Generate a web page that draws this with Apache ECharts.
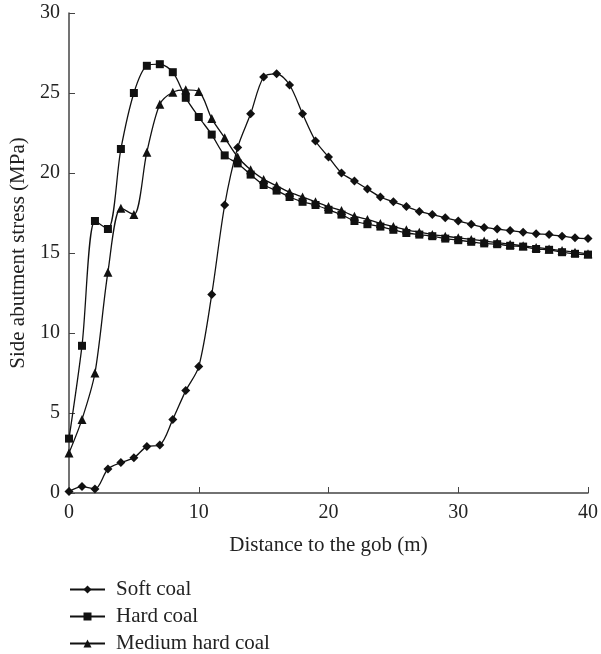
<!DOCTYPE html>
<html style="height: 100%">
<head>
    <meta charset="utf-8">
</head>
<body style="height: 100%; margin: 0; background: #fff">
    <div id="container" style="width: 601px; height: 654px"></div>
    <script type="text/javascript" src="https://cdn.jsdelivr.net/npm/echarts@6/dist/echarts.min.js"></script>
    <script type="text/javascript">
        // distance to the gob (m), one point per metre
        var distance = [];
        for (var i = 0; i <= 40; i++) distance.push(i);

        var softCoal = [0.1, 0.4, 0.25, 1.5, 1.9, 2.2, 2.9, 3.0, 4.6, 6.4, 7.9, 12.4, 18.0, 21.6, 23.7, 26.0, 26.2, 25.5, 23.7, 22.0,
            21.0, 20.0, 19.5, 19.0, 18.5, 18.2, 17.9, 17.6, 17.4, 17.2, 17.0, 16.8, 16.6, 16.5, 16.4, 16.3, 16.2, 16.15, 16.05, 15.95, 15.9];
        var hardCoal = [3.4, 9.2, 17.0, 16.5, 21.5, 25.0, 26.7, 26.8, 26.3, 24.7, 23.5, 22.4, 21.1, 20.6, 19.9, 19.25, 18.9, 18.5, 18.2, 18.0,
            17.7, 17.4, 17.0, 16.8, 16.65, 16.45, 16.25, 16.15, 16.05, 15.9, 15.8, 15.7, 15.6, 15.55, 15.45, 15.4, 15.25, 15.2, 15.05, 14.95, 14.9];
        var mediumCoal = [2.5, 4.6, 7.5, 13.8, 17.8, 17.4, 21.3, 24.3, 25.05, 25.2, 25.1, 23.4, 22.2, 21.0, 20.2, 19.6, 19.2, 18.8, 18.5, 18.2,
            17.9, 17.65, 17.3, 17.1, 16.85, 16.65, 16.45, 16.3, 16.15, 16.05, 15.95, 15.85, 15.75, 15.65, 15.55, 15.45, 15.35, 15.25, 15.15, 15.05, 14.95];

        var seriesNames = ['Soft coal', 'Hard coal', 'Medium hard coal'];

        function pairs(ys) {
            return ys.map(function (y, i) { return [distance[i], y]; });
        }

        var font = 'Liberation Serif';
        var dom = document.getElementById("container");
        var myChart = echarts.init(dom);

        function makeSeries(name, ys, symbol, size) {
            return {
                name: name,
                type: 'line',
                data: pairs(ys),
                smooth: 0.3,
                symbol: symbol,
                symbolSize: size,
                showAllSymbol: true,
                lineStyle: { color: '#111', width: 1.3 },
                itemStyle: { color: '#111' },
                emphasis: { disabled: true }
            };
        }

        // one legend per entry so the stacked list never wraps into columns
        var legends = seriesNames.map(function (name, i) {
            return {
                orient: 'vertical',
                left: 69,
                top: 579 + i * 27,
                padding: 0,
                itemWidth: 35,
                itemHeight: 10,
                data: [name],
                textStyle: { fontFamily: font, fontSize: 21, lineHeight: 20, color: '#222', padding: [0, 0, 0, 6] }
            };
        });

        var option = {
            animation: false,
            textStyle: { fontFamily: font },
            grid: {
                left: 69,
                right: 11,
                top: 13,
                bottom: 161
            },
            legend: legends,
            xAxis: {
                type: 'value',
                min: 0,
                max: 40,
                interval: 10,
                name: 'Distance to the gob (m)',
                nameLocation: 'middle',
                nameGap: 42,
                nameTextStyle: { fontFamily: font, fontSize: 21, color: '#222' },
                axisLine: { lineStyle: { color: '#444', width: 1.5 } },
                axisTick: { inside: true, length: 6, lineStyle: { color: '#444' } },
                axisLabel: { fontFamily: font, fontSize: 20, color: '#222', margin: 10 },
                splitLine: { show: false }
            },
            yAxis: {
                type: 'value',
                min: 0,
                max: 30,
                interval: 5,
                name: 'Side abutment stress (MPa)',
                nameLocation: 'middle',
                nameGap: 40,
                nameTextStyle: { fontFamily: font, fontSize: 21, color: '#222' },
                axisLine: { show: true, lineStyle: { color: '#444', width: 1.5 } },
                axisTick: { show: true, inside: true, length: 6, lineStyle: { color: '#444' } },
                axisLabel: { fontFamily: font, fontSize: 20, color: '#222', margin: 9 },
                splitLine: { show: false }
            },
            series: [
                makeSeries(seriesNames[0], softCoal, 'diamond', 9),
                makeSeries(seriesNames[1], hardCoal, 'rect', 8),
                makeSeries(seriesNames[2], mediumCoal, 'triangle', 9)
            ]
        };
        myChart.setOption(option, true);
    </script>
</body>
</html>
